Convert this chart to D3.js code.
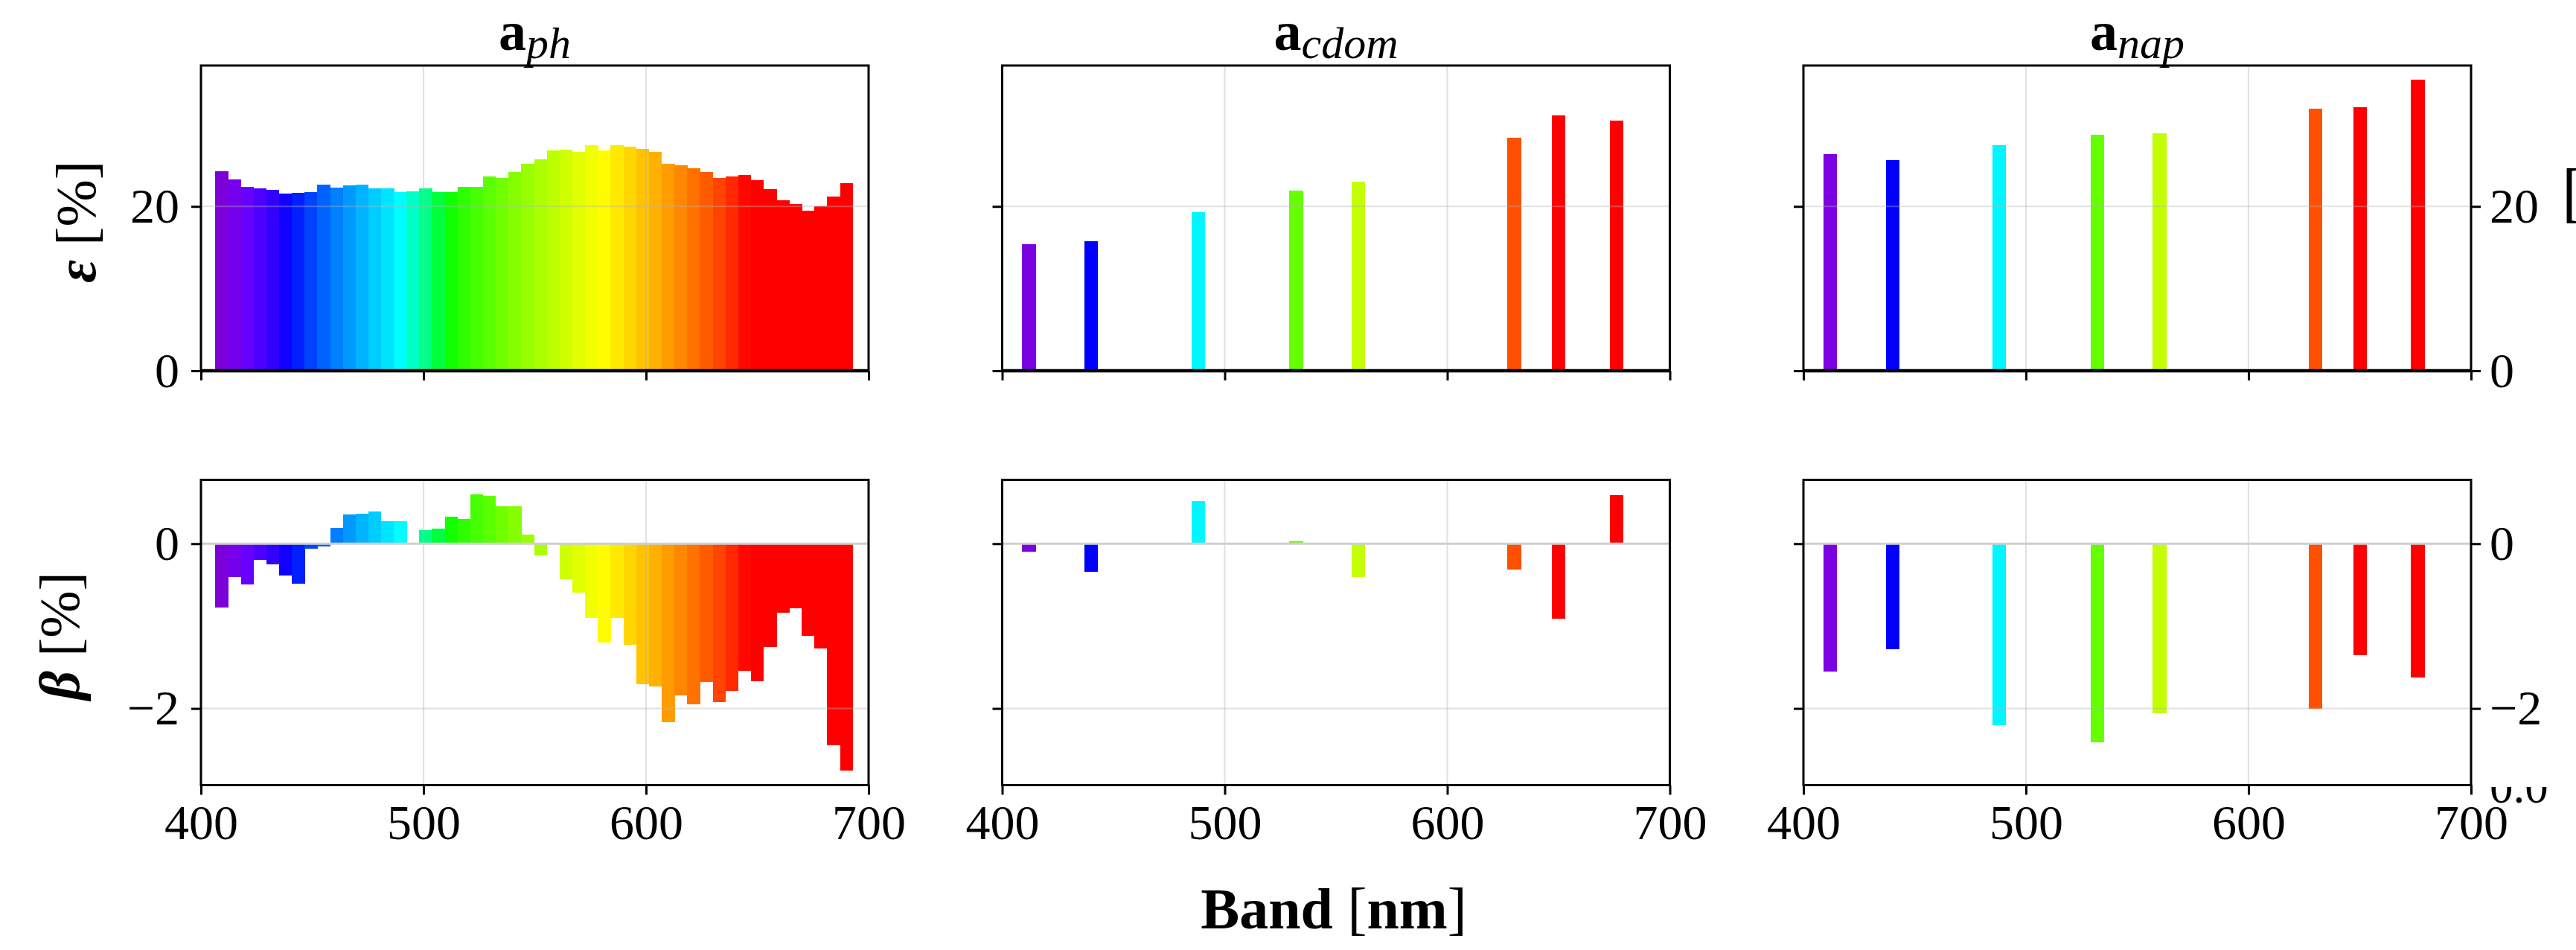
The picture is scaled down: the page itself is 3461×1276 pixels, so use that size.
<!DOCTYPE html>
<html>
<head>
<meta charset="utf-8">
<script src="https://cdn.jsdelivr.net/npm/d3@7"></script>
<style>
  html, body { margin: 0; padding: 0; background: #fff; }
  svg { display: block; }
</style>
</head>
<body>
<svg id="chart" width="3461" height="1276"></svg>
<script>
// ---- Hyperspectral bands used for a_ph (nm) ----
const bandsPh = [
  409.3, 415.0, 420.8, 426.5, 432.2, 437.9, 443.7, 449.4, 455.1, 460.9,
  466.6, 472.3, 478.1, 483.8, 489.5, 495.3, 501.0, 506.7, 512.4, 518.2,
  523.9, 529.6, 535.4, 541.1, 546.8, 552.6, 558.3, 564.0, 569.7, 575.5,
  581.2, 586.9, 592.7, 598.4, 604.1, 609.9, 615.6, 621.3, 627.0, 632.8,
  638.5, 644.2, 650.0, 655.7, 661.4, 667.2, 672.9, 678.6, 684.3, 690.1
];
// Error (ε, %) of a_ph per band
const epsPh = [
  24.30, 23.33, 22.39, 22.24, 22.03, 21.57, 21.63, 21.73, 22.66, 22.27,
  22.54, 22.66, 22.18, 22.18, 21.73, 21.88, 22.24, 21.79, 21.79, 22.36,
  22.36, 23.63, 23.48, 24.15, 25.15, 25.72, 26.78, 26.93, 26.63, 27.45,
  26.78, 27.42, 27.27, 26.96, 26.63, 25.15, 25.00, 24.66, 24.15, 23.51,
  23.69, 23.84, 23.21, 22.12, 20.73, 20.27, 19.46, 20.06, 21.21, 22.85
];
// Bias (β, %) of a_ph per band
const betaPh = [
  -0.775, -0.408, -0.498, -0.198, -0.255, -0.384, -0.483, -0.063, -0.030, 0.192,
   0.351,  0.366,  0.387,  0.276,  0.276,  0.000,  0.162,  0.180,  0.327, 0.300,
   0.600,  0.583,  0.450,  0.450,  0.108, -0.144, -0.010, -0.430, -0.595, -0.900,
  -1.200, -0.900, -1.230, -1.706, -1.730, -2.165, -1.840, -1.950, -1.680, -1.920,
  -1.787, -1.540, -1.667, -1.255, -0.835, -0.784, -1.114, -1.276, -2.450, -2.750
];

// ---- Multispectral bands used for a_cdom and a_nap (nm) ----
const bandsMs = [412, 440, 488, 532, 560, 630, 650, 676];
const epsCdom  = [15.4, 15.8, 19.3, 21.9, 23.0, 28.35, 31.1, 30.45];
const betaCdom = [-0.10, -0.34, 0.52, 0.03, -0.40, -0.31, -0.91, 0.59];
const epsNap   = [26.4, 25.6, 27.5, 28.7, 28.9, 31.9, 32.1, 35.4];
const betaNap  = [-1.555, -1.28, -2.205, -2.41, -2.06, -2.00, -1.35, -1.625];

// ---- Axis ticks ----
const xTicks = [400, 500, 600, 700];
const epsTicks = [0, 20];
const betaTicks = [-2, 0];
const epsDomain = [0, 37.15];
const betaDomain = [-2.93, 0.775];

// ---- Layout ----
const FONT = "'Liberation Serif', 'Times New Roman', serif";
const TICK_FS = 66;
const panelW = 897;
const rowTop = { y0: 88, h: 410 };
const rowBot = { y0: 644.5, h: 410 };
const panelX = [270, 1346.5, 2423];

const svg = d3.select("#chart");

const x = d3.scaleLinear().domain([400, 700]).range([0, panelW]);
const yEps = d3.scaleLinear().domain(epsDomain).range([rowTop.h, 0]);
const yBeta = d3.scaleLinear().domain(betaDomain).range([rowBot.h, 0]);

// Visible-spectrum colour for a wavelength (nm), gamma 0.8
function bandColor(wl) {
  let r = 0, g = 0, b = 0;
  if (wl < 440) { r = -(wl - 440) / (440 - 380); b = 1; }
  else if (wl < 490) { g = (wl - 440) / (490 - 440); b = 1; }
  else if (wl < 510) { g = 1; b = -(wl - 510) / (510 - 490); }
  else if (wl < 580) { r = (wl - 510) / (580 - 510); g = 1; }
  else if (wl < 645) { r = 1; g = -(wl - 645) / (645 - 580); }
  else { r = 1; }
  let f = 1;
  if (wl < 420) f = 0.3 + 0.7 * (wl - 380) / (420 - 380);
  const c = v => Math.round(255 * Math.pow(v * f, 0.8));
  return d3.rgb(c(r), c(g), c(b)).formatHex();
}

const columns = [
  { sub: "ph",   bands: bandsPh, eps: epsPh,   beta: betaPh,   width: 5.73 },
  { sub: "cdom", bands: bandsMs, eps: epsCdom, beta: betaCdom, width: 6.0 },
  { sub: "nap",  bands: bandsMs, eps: epsNap,  beta: betaNap,  width: 6.0 }
];

function styleAxis(g, fontSize) {
  g.select(".domain").remove();
  g.selectAll(".tick line").attr("stroke", "#000").attr("stroke-width", 3);
  g.selectAll(".tick text")
    .attr("fill", "#000")
    .style("font-family", FONT)
    .style("font-size", fontSize + "px");
}

function drawPanel(col, ci, row, yScale, values, ticks, isBottom) {
  const g = svg.append("g")
    .attr("transform", `translate(${panelX[ci]},${row.y0})`);

  const data = col.bands.map((b, i) => ({ band: b, v: values[i] }));
  const bw = x(400 + col.width) - x(400);

  // bars
  g.append("g").selectAll("rect")
    .data(data)
    .join("rect")
    .attr("x", d => x(d.band) - bw / 2)
    .attr("width", bw + 0.4)
    .attr("y", d => Math.min(yScale(d.v), yScale(0)))
    .attr("height", d => Math.abs(yScale(d.v) - yScale(0)))
    .attr("fill", d => bandColor(d.band))
    .attr("shape-rendering", "crispEdges");

  // grid
  const grid = g.append("g").attr("stroke", "#b4b4b4").attr("stroke-opacity", 0.38).attr("stroke-width", 2.2);
  grid.selectAll("line.gx").data(xTicks).join("line")
    .attr("x1", d => x(d)).attr("x2", d => x(d))
    .attr("y1", 0).attr("y2", row.h);
  grid.selectAll("line.gy").data(ticks).join("line")
    .attr("x1", 0).attr("x2", panelW)
    .attr("y1", d => yScale(d)).attr("y2", d => yScale(d));

  if (isBottom) {
    g.append("line")
      .attr("x1", 0).attr("x2", panelW)
      .attr("y1", yScale(0)).attr("y2", yScale(0))
      .attr("stroke", "#cfcfcf").attr("stroke-width", 3);
  }

  // x axis ticks (labels only on the bottom row)
  const xAx = g.append("g").attr("transform", `translate(0,${row.h})`)
    .call(d3.axisBottom(x).tickValues(xTicks).tickSize(13)
      .tickFormat(isBottom ? d3.format("d") : () => ""));
  styleAxis(xAx, TICK_FS);
  xAx.selectAll(".tick text").attr("dy", null).attr("y", 72);

  // left y ticks (labels only on first column)
  const yAxL = g.append("g")
    .call(d3.axisLeft(yScale).tickValues(ticks).tickSize(13).tickPadding(16)
      .tickFormat(ci === 0 ? d3.format("d") : () => ""));
  styleAxis(yAxL, TICK_FS);

  // right y ticks with labels on the last column
  if (ci === 2) {
    const yAxR = g.append("g").attr("transform", `translate(${panelW},0)`)
      .call(d3.axisRight(yScale).tickValues(ticks).tickSize(13).tickPadding(12)
        .tickFormat(d3.format("d")));
    styleAxis(yAxR, TICK_FS);
  }

  // frame
  g.append("rect")
    .attr("x", 0).attr("y", 0).attr("width", panelW).attr("height", row.h)
    .attr("fill", "none").attr("stroke", "#000").attr("stroke-width", 3);
  if (!isBottom) {
    g.append("line")
      .attr("x1", 0).attr("x2", panelW)
      .attr("y1", yScale(0)).attr("y2", yScale(0))
      .attr("stroke", "#000").attr("stroke-width", 4.5);
  }
  return g;
}

columns.forEach((col, ci) => {
  drawPanel(col, ci, rowTop, yEps, col.eps, epsTicks, false);
  drawPanel(col, ci, rowBot, yBeta, col.beta, betaTicks, true);

  // column title: bold a with italic subscript
  const t = svg.append("text")
    .attr("x", panelX[ci] + panelW / 2)
    .attr("y", 67)
    .attr("text-anchor", "middle")
    .style("font-family", FONT);
  t.append("tspan").text("a").style("font-weight", "bold").style("font-size", "74px");
  t.append("tspan").text(col.sub).attr("dy", 11)
    .style("font-style", "italic").style("font-size", "60px");
});

// y-axis labels
function yLabel(sym, cx, cy) {
  const t = svg.append("text")
    .attr("transform", `translate(${cx},${cy}) rotate(-90)`)
    .attr("text-anchor", "middle")
    .style("font-family", FONT)
    .style("font-size", "76px");
  t.append("tspan").text(sym).style("font-weight", "bold").style("font-style", "italic");
  t.append("tspan").text(" [%]");
}
yLabel("ε", 128, 298);
yLabel("β", 106, 854);

// secondary label at the right edge
svg.append("text")
  .attr("x", 3442).attr("y", 288)
  .style("font-family", FONT).style("font-size", "88px")
  .text("[%]");

// partially hidden tick text under the lower-right frame
svg.append("clipPath").attr("id", "lowClip")
  .append("rect").attr("x", 3330).attr("y", 1057).attr("width", 131).attr("height", 60);
svg.append("text")
  .attr("x", 3345).attr("y", 1078)
  .attr("clip-path", "url(#lowClip)")
  .style("font-family", FONT).style("font-size", "63px")
  .text("0.0");

// x-axis label
const xl = svg.append("text")
  .attr("x", 1792).attr("y", 1247)
  .attr("text-anchor", "middle")
  .style("font-family", FONT).style("font-size", "78px");
xl.append("tspan").text("Band ").style("font-weight", "bold");
xl.append("tspan").text("[");
xl.append("tspan").text("nm").style("font-weight", "bold");
xl.append("tspan").text("]");
</script>
</body>
</html>
